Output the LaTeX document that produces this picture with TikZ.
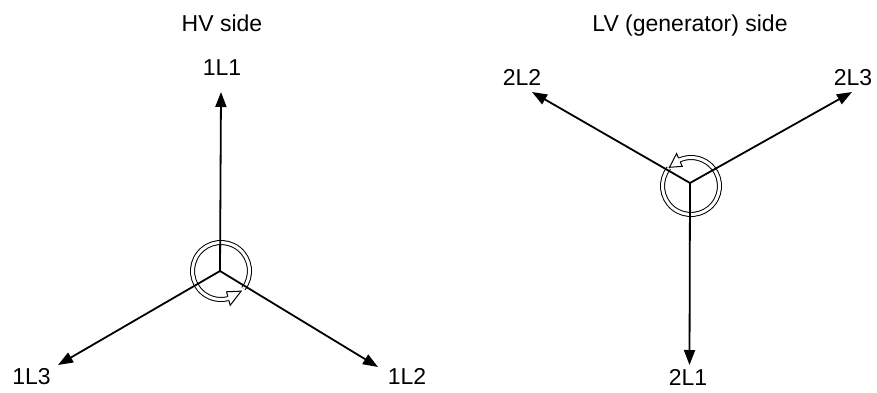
\documentclass[tikz,border=0pt]{standalone}
\usepackage{fontspec}
\setmainfont{Liberation Sans}
\usetikzlibrary{arrows.meta}
\begin{document}
\begin{tikzpicture}[x=1bp,y=1bp,
  vec/.style={line width=1.8bp,-{Triangle[length=15bp,width=11bp]}},
  lbl/.style={anchor=base,inner sep=0pt,font=\fontsize{23bp}{27bp}\selectfont},
  rot/.style={line width=1bp,double=white,double distance=3bp},
  rothead/.style={line width=1bp,fill=white,line join=miter}]
\useasboundingbox (0,0) rectangle (877,392);
% titles
\node[lbl] (t1) at (222,361) {HV side};
\node[lbl] (t2) at (690,361) {LV (generator) side};
% left (HV) star
\coordinate (c1) at (220,121);
\coordinate (p11) at (221,300);
\coordinate (p12) at (378,25);
\coordinate (p13) at (58,27);
% rotation symbol HV (counter-clockwise)
\begin{scope}[shift={(221,121)}]
  \draw[rot] (-38:28.5) arc[start angle=-38,delta angle=323,radius=28.5];
  \path[rothead,fill=white] (285:35.5) -- (315:28.5) -- (285:21.5) -- cycle;
  \draw[line width=1bp] (285:30.5) -- (285:35.5) -- (315:28.5) -- (285:21.5) -- (285:26.5);
\end{scope}
\draw[vec] (c1) -- (p11);
\draw[vec] (c1) -- (p12);
\draw[vec] (c1) -- (p13);
\node[lbl] (l11) at (222,317) {1L1};
\node[lbl] (l12) at (407,8) {1L2};
\node[lbl] (l13) at (31.5,8) {1L3};
% right (LV) star
\coordinate (c2) at (690,209);
\coordinate (p21) at (689.5,27);
\coordinate (p22) at (532,300);
\coordinate (p23) at (852,300);
\begin{scope}[shift={(691,206)}]
  \draw[rot] (141:28.5) arc[start angle=141,delta angle=333,radius=28.5];
  \path[rothead,fill=white] (114:35.5) -- (139:28.5) -- (114:21.5) -- cycle;
  \draw[line width=1bp] (114:30.5) -- (114:35.5) -- (139:28.5) -- (114:21.5) -- (114:26.5);
\end{scope}
\draw[vec] (c2) -- (p21);
\draw[vec] (c2) -- (p22);
\draw[vec] (c2) -- (p23);
\node[lbl] (l21) at (688,7) {2L1};
\node[lbl] (l22) at (522,307) {2L2};
\node[lbl] (l23) at (853,307) {2L3};
\end{tikzpicture}
\end{document}
